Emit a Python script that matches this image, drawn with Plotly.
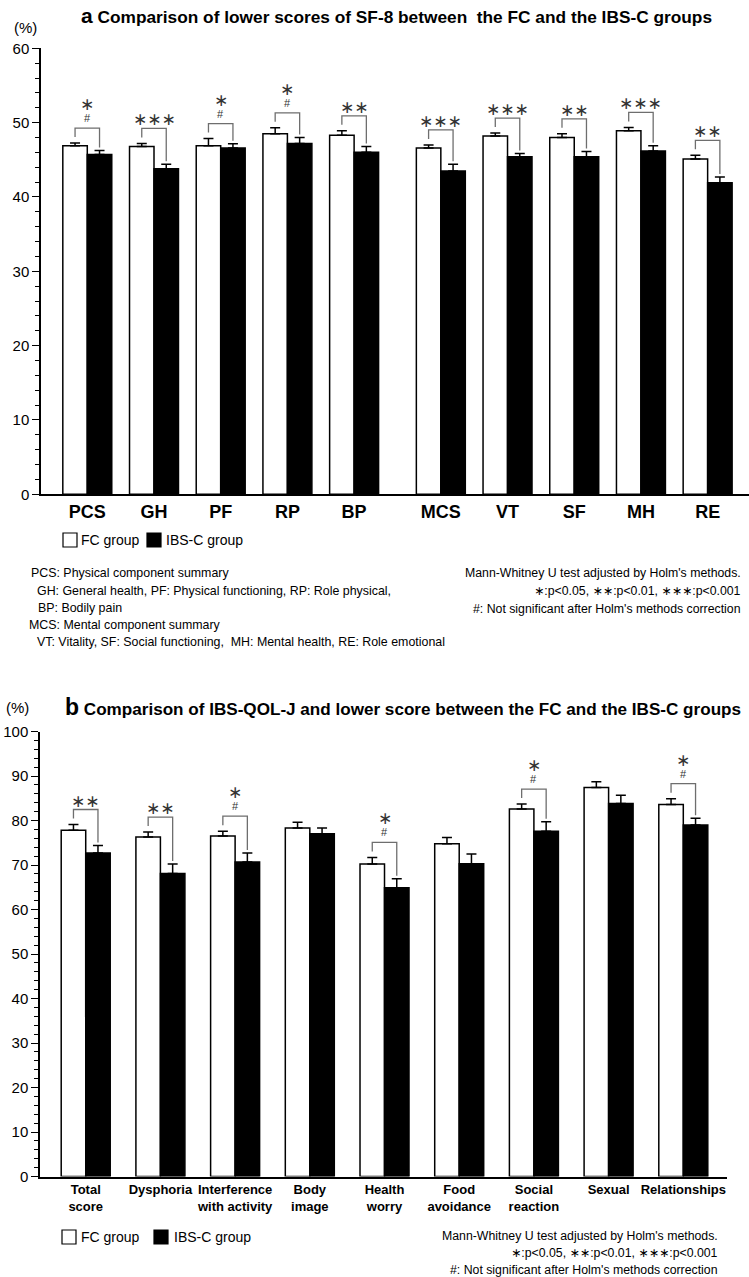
import plotly.graph_objects as go

# ---------------- data ----------------
cats_a = ["PCS", "GH", "PF", "RP", "BP", "MCS", "VT", "SF", "MH", "RE"]
fc_a = [46.9, 46.8, 46.9, 48.5, 48.3, 46.6, 48.2, 48.0, 48.9, 45.1]
fc_a_err = [0.35, 0.4, 0.95, 0.8, 0.6, 0.4, 0.4, 0.5, 0.45, 0.5]
ibs_a = [45.7, 43.8, 46.6, 47.2, 46.0, 43.5, 45.4, 45.4, 46.2, 41.9]
ibs_a_err = [0.55, 0.6, 0.55, 0.8, 0.8, 0.9, 0.45, 0.7, 0.7, 0.8]
sig_a = ["*", "***", "*", "*", "**", "***", "***", "**", "***", "**"]
hash_a = [True, False, True, True, False, False, False, False, False, False]

cats_b = ["Total<br>score", "Dysphoria", "Interference<br>with activity", "Body<br>image",
          "Health<br>worry", "Food<br>avoidance", "Social<br>reaction", "Sexual", "Relationships"]
fc_b = [77.8, 76.3, 76.5, 78.3, 70.2, 74.8, 82.6, 87.4, 83.6]
fc_b_err = [1.3, 1.1, 1.1, 1.3, 1.5, 1.4, 1.1, 1.3, 1.3]
ibs_b = [72.7, 68.1, 70.7, 77.0, 64.9, 70.3, 77.6, 83.8, 79.0]
ibs_b_err = [1.7, 2.1, 2.0, 1.3, 2.0, 2.2, 2.1, 1.9, 1.5]
sig_b = ["**", "**", "*", "", "*", "", "*", "", "*"]
hash_b = [False, False, True, False, True, False, True, False, True]

legend_names = ["FC group", "IBS-C group"]

# ---------------- style ----------------
W, H = 749, 1277
BASE = "Liberation Sans, Arial, sans-serif"
STARF = "DejaVu Sans, sans-serif"
STAR = "∗"
GRAY = "#6e6e6e"
STARC = "#333333"

# x positions (gap between physical and mental groups)
xa = [i + (0.3 if i >= 5 else 0.0) for i in range(len(cats_a))]
xb = list(range(len(cats_b)))
wa = 0.367
wb = 0.328

fig = go.Figure()

def add_panel(x, fc, fce, ibs, ibse, w, xaxis, yaxis):
    fig.add_trace(go.Bar(
        x=x, y=fc, width=w, offset=-w, name=legend_names[0],
        marker=dict(color="white", line=dict(color="black", width=1.5)),
        error_y=dict(type="data", array=fce, arrayminus=[0] * len(fce), symmetric=False,
                     color="black", thickness=1.5, width=5),
        xaxis=xaxis, yaxis=yaxis, showlegend=False))
    fig.add_trace(go.Bar(
        x=x, y=ibs, width=w, offset=0, name=legend_names[1],
        marker=dict(color="black", line=dict(color="black", width=1.5)),
        error_y=dict(type="data", array=ibse, arrayminus=[0] * len(ibse), symmetric=False,
                     color="black", thickness=1.5, width=5),
        xaxis=xaxis, yaxis=yaxis, showlegend=False))

add_panel(xa, fc_a, fc_a_err, ibs_a, ibs_a_err, wa, "x", "y")
add_panel(xb, fc_b, fc_b_err, ibs_b, ibs_b_err, wb, "x2", "y2")

# domains (paper coords, figure has zero margins)
ya0, ya1 = 1 - 494.3 / H, 1 - 48.3 / H
yb0, yb1 = 1 - 1176.5 / H, 1 - 731.5 / H
pxa = (494.3 - 48.3) / 60.0   # pixels per unit panel a
pxb = (1176.5 - 731.5) / 100.0

shapes = []
annotations = []

def brackets(x, fc, fce, ibs, ibse, w, sig, hsh, ppu, xr, yr):
    for i in range(len(x)):
        if not sig[i]:
            continue
        t1 = fc[i] + fce[i]
        t2 = ibs[i] + ibse[i]
        top = max(t1, t2) + 15 / ppu
        xl = x[i] - w / 2
        xr_ = x[i] + w / 2
        shapes.append(dict(type="path", xref=xr, yref=yr,
                           path=f"M {xl},{t1 + 6 / ppu} L {xl},{top} L {xr_},{top} L {xr_},{t2 + 3 / ppu}",
                           line=dict(color=GRAY, width=1.3)))
        stars = STAR * len(sig[i])
        if hsh[i]:
            annotations.append(dict(x=x[i], y=top, xref=xr, yref=yr, text="#", showarrow=False,
                                    yanchor="middle", yshift=10, font=dict(family=BASE, size=11, color=STARC)))
            annotations.append(dict(x=x[i], y=top, xref=xr, yref=yr, text=stars, showarrow=False,
                                    yanchor="middle", yshift=24, font=dict(family=STARF, size=17, color=STARC)))
        else:
            annotations.append(dict(x=x[i], y=top, xref=xr, yref=yr, text=stars, showarrow=False,
                                    yanchor="middle", yshift=9, font=dict(family=STARF, size=17, color=STARC)))

brackets(xa, fc_a, fc_a_err, ibs_a, ibs_a_err, wa, sig_a, hash_a, pxa, "x", "y")
brackets(xb, fc_b, fc_b_err, ibs_b, ibs_b_err, wb, sig_b, hash_b, pxb, "x2", "y2")

def pa(x, y, text, size=13, family=BASE, xanchor="left", color="black"):
    annotations.append(dict(x=x / W, y=1 - y / H, xref="paper", yref="paper", text=text,
                            showarrow=False, xanchor=xanchor, yanchor="middle",
                            font=dict(family=family, size=size, color=color)))

def legend_box(x, y, fill):
    shapes.append(dict(type="rect", xref="paper", yref="paper",
                       x0=x / W, x1=(x + 14) / W, y0=1 - (y + 7) / H, y1=1 - (y - 7) / H,
                       fillcolor=fill, line=dict(color="black", width=1.2)))

# panel a titles
pa(396, 15, "<b><span style='font-size:21px'>a</span> Comparison of lower scores of SF-8 between  the FC and the IBS-C groups</b>",
   size=17.3, xanchor="center")
pa(12, 27, "(%)", size=15)
# legend a
legend_box(63, 540, "white"); pa(79, 540, legend_names[0], size=14)
legend_box(147, 540, "black"); pa(164, 540, legend_names[1], size=14)
# panel a notes
left_notes = [
    (29, 573, "PCS: Physical component summary"),
    (35, 591, "GH: General health, PF: Physical functioning, RP: Role physical,"),
    (36, 608, "BP: Bodily pain"),
    (27, 625, "MCS: Mental component summary"),
    (35, 642, "VT: Vitality, SF: Social functioning,  MH: Mental health, RE: Role emotional"),
]
for x, y, t in left_notes:
    pa(x, y, t, size=12.4)
right_notes = ["Mann-Whitney U test adjusted by Holm's methods.",
               f"<span style='font-family:DejaVu Sans'>{STAR}</span>:p&lt;0.05, "
               f"<span style='font-family:DejaVu Sans'>{STAR * 2}</span>:p&lt;0.01, "
               f"<span style='font-family:DejaVu Sans'>{STAR * 3}</span>:p&lt;0.001",
               "#: Not significant after Holm's methods correction"]
for k, t in enumerate(right_notes):
    pa(743, 573 + 18 * k, t, size=12.3, xanchor="right")

# panel b titles
pa(4, 707, "(%)", size=15)
pa(63, 707, "<b><span style='font-size:23px'>b</span> Comparison of IBS-QOL-J and lower score between the FC and the IBS-C groups</b>",
   size=17.1)
legend_box(62, 1237, "white"); pa(79, 1237, legend_names[0], size=14)
legend_box(154, 1237, "black"); pa(172, 1237, legend_names[1], size=14)
for k, t in enumerate(right_notes):
    pa(720, 1236 + 17 * k, t, size=12.3, xanchor="right")

axis_common = dict(showline=True, linecolor="black", linewidth=1.5, showgrid=False, zeroline=False)

fig.update_layout(
    width=W, height=H, margin=dict(l=0, r=0, t=0, b=0, autoexpand=False),
    paper_bgcolor="white", plot_bgcolor="white",
    barmode="overlay", showlegend=False,
    shapes=shapes, annotations=annotations,
    xaxis=dict(domain=[41 / W, 1], range=[-0.694, 9.92], anchor="y",
               tickmode="array", tickvals=xa, ticktext=[f"<b>{c}</b>" for c in cats_a],
               ticks="", tickangle=0, tickfont=dict(family=BASE, size=18, color="black"), **axis_common),
    yaxis=dict(domain=[ya0, ya1], range=[0, 60], anchor="x", dtick=10, ticks="outside", ticklen=7,
               tickwidth=1.3, tickcolor="black",
               minor=dict(dtick=2, ticks="outside", ticklen=4, tickwidth=1.2, tickcolor="black"),
               tickfont=dict(family=BASE, size=15, color="black"), **axis_common),
    xaxis2=dict(domain=[40 / W, 727 / W], range=[-0.612, 8.585], anchor="y2",
                tickmode="array", tickvals=xb, ticktext=[f"<b>{c}</b>" for c in cats_b],
                ticks="", tickangle=0, tickfont=dict(family=BASE, size=13, color="black"), **axis_common),
    yaxis2=dict(domain=[yb0, yb1], range=[0, 100], anchor="x2", dtick=10, ticks="outside", ticklen=7,
                tickwidth=1.3, tickcolor="black",
                minor=dict(dtick=2, ticks="outside", ticklen=4, tickwidth=1.2, tickcolor="black"),
                tickfont=dict(family=BASE, size=15, color="black"), **axis_common),
)

fig.write_html("out.html", config={"displayModeBar": False},
               post_script="document.body.style.margin='0';document.documentElement.style.overflow='hidden';")
